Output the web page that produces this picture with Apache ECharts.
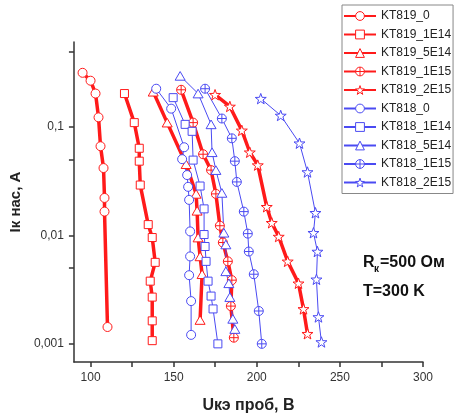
<!DOCTYPE html>
<html>
<head>
<meta charset="utf-8">
<script src="https://cdn.jsdelivr.net/npm/echarts@6/dist/echarts.min.js"></script>
<style>
html, body { margin: 0; padding: 0; background: #fff; }
#chartContainer { width: 457px; height: 419px; }
</style>
</head>
<body>
<div id="chartContainer"></div>
<script>
// tick values
var xTickValues = [100, 125, 150, 175, 200, 225, 250, 275, 300];
var xLabelValues = [100, 150, 200, 250, 300];
var yTickValues = [0.001, 0.005, 0.01, 0.05, 0.1, 0.5];
var yLabelValues = [0.001, 0.01, 0.1];

// series names
var seriesNames = ['KT819_0', 'KT819_1E14', 'KT819_5E14', 'KT819_1E15', 'KT819_2E15',
	'KT818_0', 'KT818_1E14', 'KT818_5E14', 'KT818_1E15', 'KT818_2E15'];

// [Uкэ, Iк]
var kt819_0 = [[95.2, 0.317], [100, 0.268], [103, 0.204], [104.8, 0.123], [106, 0.0666],
	[107.8, 0.0419], [108.4, 0.0222], [108.4, 0.0166], [110.2, 0.00143]];
var kt819_1e14 = [[120.4, 0.204], [126.3, 0.110], [129.3, 0.0638], [129.3, 0.0485], [129.9, 0.0292],
	[134.7, 0.0126], [137.1, 0.00957], [138.9, 0.00565], [135.9, 0.00379], [137.1, 0.0027],
	[137.1, 0.00163], [137.1, 0.00107]];
var kt819_5e14 = [[137.7, 0.212], [146.1, 0.110], [157.5, 0.0455], [163.5, 0.0242], [164.1, 0.0169],
	[164.7, 0.00957], [165.9, 0.00641], [167.1, 0.00439], [165.9, 0.00166]];
var kt819_1e15 = [[154.5, 0.221], [161.7, 0.110], [167.7, 0.0562], [172.5, 0.0401], [175.4, 0.0242],
	[177.8, 0.0123], [179.6, 0.00861], [182.6, 0.00577], [185.0, 0.00387], [184.4, 0.00223],
	[186.2, 0.00114]];
var kt819_2e15 = [[174.9, 0.199], [183.8, 0.155], [191.0, 0.0933], [195.8, 0.0586], [200.6, 0.0446],
	[206.0, 0.0184], [209.0, 0.0131], [213.2, 0.00977], [218.6, 0.00577], [225.1, 0.00362],
	[228.1, 0.00210], [230.5, 0.00124]];
var kt818_0 = [[139.5, 0.226], [148.5, 0.148], [156.3, 0.0652], [155.1, 0.0506], [158.1, 0.0361],
	[158.7, 0.0281], [159.3, 0.0213], [159.9, 0.0109], [159.9, 0.00641], [159.3, 0.00430],
	[160.5, 0.00248], [160.5, 0.00121]];
var kt818_1e14 = [[149.7, 0.187], [156.9, 0.106], [161.1, 0.0914], [161.7, 0.0496], [165.9, 0.0286],
	[168.3, 0.0176], [168.3, 0.0102], [168.9, 0.00791], [169.5, 0.00577], [170.7, 0.00379],
	[172.5, 0.00276], [173.7, 0.00210], [176.6, 0.00100]];
var kt818_5e14 = [[153.9, 0.297], [164.7, 0.204], [172.5, 0.106], [173.1, 0.0586], [175.4, 0.0401],
	[179.0, 0.0247], [180.2, 0.0106], [181.4, 0.00826], [181.4, 0.00467], [183.2, 0.00362],
	[183.8, 0.00270], [185.6, 0.00170], [186.8, 0.00137]];
var kt818_1e15 = [[168.9, 0.226], [179.0, 0.120], [185.0, 0.0788], [186.8, 0.0485], [188.0, 0.0312],
	[192.2, 0.0166], [194.6, 0.0104], [195.2, 0.00711], [198.2, 0.00439], [201.2, 0.00201],
	[203.0, 0.00100]];
var kt818_2e15 = [[202.4, 0.183], [214.4, 0.128], [225.7, 0.0710], [230.5, 0.0385], [235.3, 0.0162],
	[234.1, 0.0106], [236.5, 0.00711], [235.9, 0.00394], [237.1, 0.00177], [238.9, 0.00104]];

var ikChart = {
	containerId: "chartContainer",
	redColor: '#ff1a1a',
	blueColor: '#4a4af2',
	/**
	 * 符号路径
	 */
	symbols: {
		circle: 'path://M0,-5A5,5 0 1,1 0,5A5,5 0 1,1 0,-5Z',
		square: 'path://M-5,-5L5,-5L5,5L-5,5Z',
		triangle: 'path://M0,-5L5.5,4.5L-5.5,4.5Z',
		cross: 'path://M0,-5A5,5 0 1,1 0,5A5,5 0 1,1 0,-5Z M-5,0L5,0 M0,-5L0,5',
		star: 'path://M0,-10L2.35,-3.24L9.51,-3.09L3.8,1.24L5.88,8.09L0,4L-5.88,8.09L-3.8,1.24L-9.51,-3.09L-2.35,-3.24Z'
	},
	/**
	 * 生成一条曲线
	 */
	makeSeries: function(name, data, color, symbol, size, lineWidth) {
		return {
			name: name,
			type: 'line',
			data: data,
			symbol: ikChart.symbols[symbol],
			symbolSize: size,
			symbolKeepAspect: true,
			showAllSymbol: true,
			lineStyle: { color: color, width: lineWidth },
			itemStyle: { color: '#fff', borderColor: color, borderWidth: 1 },
			emphasis: { disabled: true },
			animation: false
		};
	},
	/**
	 * 显示图表
	 */
	showChart: function() {
		var myChart = echarts.init(document.getElementById(ikChart.containerId));
		var r = ikChart.redColor, b = ikChart.blueColor;
		var series = [
			ikChart.makeSeries(seriesNames[0], kt819_0, r, 'circle', 9, 3.5),
			ikChart.makeSeries(seriesNames[1], kt819_1e14, r, 'square', 8, 3.5),
			ikChart.makeSeries(seriesNames[2], kt819_5e14, r, 'triangle', 10, 3.5),
			ikChart.makeSeries(seriesNames[3], kt819_1e15, r, 'cross', 9, 3.5),
			ikChart.makeSeries(seriesNames[4], kt819_2e15, r, 'star', 11, 3.5),
			ikChart.makeSeries(seriesNames[5], kt818_0, b, 'circle', 9, 1),
			ikChart.makeSeries(seriesNames[6], kt818_1e14, b, 'square', 8, 1),
			ikChart.makeSeries(seriesNames[7], kt818_5e14, b, 'triangle', 10, 1),
			ikChart.makeSeries(seriesNames[8], kt818_1e15, b, 'cross', 9, 1),
			ikChart.makeSeries(seriesNames[9], kt818_2e15, b, 'star', 11, 1)
		];
		var font = '"Liberation Sans", Arial, sans-serif';
		var option = {
			animation: false,
			textStyle: { fontFamily: font },
			grid: { left: 72, right: 34, top: 42, bottom: 56, containLabel: false },
			legend: {
				orient: 'vertical',
				left: 342,
				top: 5,
				padding: [5, 2, 5, 1],
				itemWidth: 32,
				itemHeight: 11,
				itemGap: 6.5,
				borderColor: '#888',
				borderWidth: 1,
				data: seriesNames,
				itemStyle: { color: '#fff', borderColor: 'inherit', borderWidth: 1 },
				textStyle: { fontSize: 12, color: '#222', fontFamily: font }
			},
			xAxis: {
				type: 'value',
				min: 90,
				max: 300,
				name: 'Uкэ проб, В',
				nameLocation: 'middle',
				nameGap: 36,
				nameTextStyle: { fontSize: 16, fontWeight: 'bold', color: '#222' },
				axisLine: { show: true, onZero: false, lineStyle: { color: '#333', width: 1.5 } },
				axisTick: { show: true, length: 5, customValues: xTickValues, lineStyle: { color: '#333', width: 1.5 } },
				axisLabel: { customValues: xLabelValues, margin: 10, fontSize: 12, color: '#333' },
				splitLine: { show: false }
			},
			yAxis: {
				type: 'log',
				logBase: 10,
				min: 0.00068,
				max: 0.61,
				name: 'Iк нас, А',
				nameLocation: 'middle',
				nameGap: 38,
				nameTextStyle: { fontSize: 15, fontWeight: 'bold', color: '#222' },
				axisLine: { show: true, onZero: false, lineStyle: { color: '#333', width: 1.5 } },
				axisTick: { show: true, length: 5, customValues: yTickValues, lineStyle: { color: '#333', width: 1.5 } },
				axisLabel: {
					customValues: yLabelValues,
					margin: 10,
					fontSize: 12,
					color: '#333',
					formatter: function(v) {
						return String(+v.toPrecision(3)).replace('.', ',');
					}
				},
				splitLine: { show: false }
			},
			graphic: [
				{ type: 'text', left: 363, top: 255, style: { text: 'R', fontSize: 16, fontWeight: 'bold', fill: '#111', fontFamily: font } },
				{ type: 'text', left: 374, top: 264, style: { text: 'к', fontSize: 10, fontWeight: 'bold', fill: '#111', fontFamily: font } },
				{ type: 'text', left: 380, top: 255, style: { text: '=500 Ом', fontSize: 16, fontWeight: 'bold', fill: '#111', fontFamily: font } },
				{ type: 'text', left: 363, top: 284, style: { text: 'T=300 K', fontSize: 16, fontWeight: 'bold', fill: '#111', fontFamily: font } }
			],
			series: series
		};
		// 显示图表
		myChart.setOption(option);
	}
};

ikChart.showChart();
</script>
</body>
</html>
